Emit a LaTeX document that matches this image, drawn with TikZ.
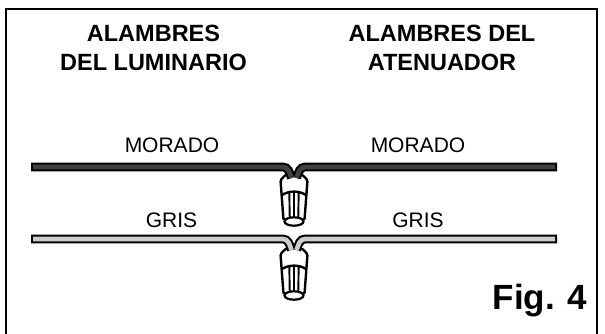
\documentclass[tikz,border=0pt]{standalone}
\usepackage{fontspec}
\setmainfont{Liberation Sans}
\tikzset{
  head/.style={font=\fontsize{23.5}{29.5}\selectfont\bfseries,align=center,inner sep=0pt},
  lab/.style={font=\fontsize{21}{25}\selectfont,inner sep=0pt,anchor=base},
  wireout/.style={line width=8.8pt},
  wirepurple/.style={line width=4.6pt,color=black!75},
  wiregrey/.style={line width=4.6pt,color=black!20},
  nut/.pic={
    \draw[line width=2.4pt,fill=white,line join=round,rounded corners=1.5pt] (-13.5,6) -- (-8,0.5) -- (8,0.5) -- (13.5,6) -- (10.5,46) -- (-10.5,46) -- cycle;
    \draw[line width=2.4pt] (-12,21) .. controls (-5,16.5) and (5,16.5) .. (12,21);
    \foreach \t in {-4.7,0,4.7} \draw[line width=1.9pt] (\t,18) -- (\t*.9,46);
    \draw[line width=2.2pt,fill=white] (0,47.5) ellipse (9.5 and 4.2);
  }
}
\begin{document}
\begin{tikzpicture}[x=1pt,y=-1pt]
\useasboundingbox (0,0) rectangle (605,334);
\draw[line width=2.4pt] (6,340) -- (6,9) -- (597,9) -- (597,340);
\node[head] (h1) at (153.5,48) {ALAMBRES\\DEL LUMINARIO};
\node[head] (h2) at (442,48) {ALAMBRES DEL\\ATENUADOR};
\node[lab] (m1) at (172,153) {MORADO};
\node[lab] (m2) at (418,153) {MORADO};
\node[lab] (g1) at (171.5,227.5) {GRIS};
\node[lab] (g2) at (418,227.5) {GRIS};
\node[font=\fontsize{35}{40}\selectfont\bfseries,inner sep=0pt,anchor=base] (fig) at (540,309) {Fig. 4};
% purple wire
\pic at (294,174) {nut};
\draw[wireout] (31,167) -- (283,167) .. controls (288,167) and (289.5,172) .. (291.5,178);
\draw[wireout] (557,167) -- (305,167) .. controls (300,167) and (298.5,172) .. (296.5,178);
\draw[wirepurple] (33,167) -- (283,167) .. controls (288,167) and (289.5,172) .. (291.5,178);
\draw[wirepurple] (555,167) -- (305,167) .. controls (300,167) and (298.5,172) .. (296.5,178);
% grey wire
\pic at (294,248) {nut};
\draw[wireout] (31,239) -- (283,239) .. controls (288,239) and (289.5,244) .. (291.5,250);
\draw[wireout] (557,239) -- (305,239) .. controls (300,239) and (298.5,244) .. (296.5,250);
\draw[wiregrey] (33,239) -- (283,239) .. controls (288,239) and (289.5,244) .. (291.5,250);
\draw[wiregrey] (555,239) -- (305,239) .. controls (300,239) and (298.5,244) .. (296.5,250);
\end{tikzpicture}
\end{document}
